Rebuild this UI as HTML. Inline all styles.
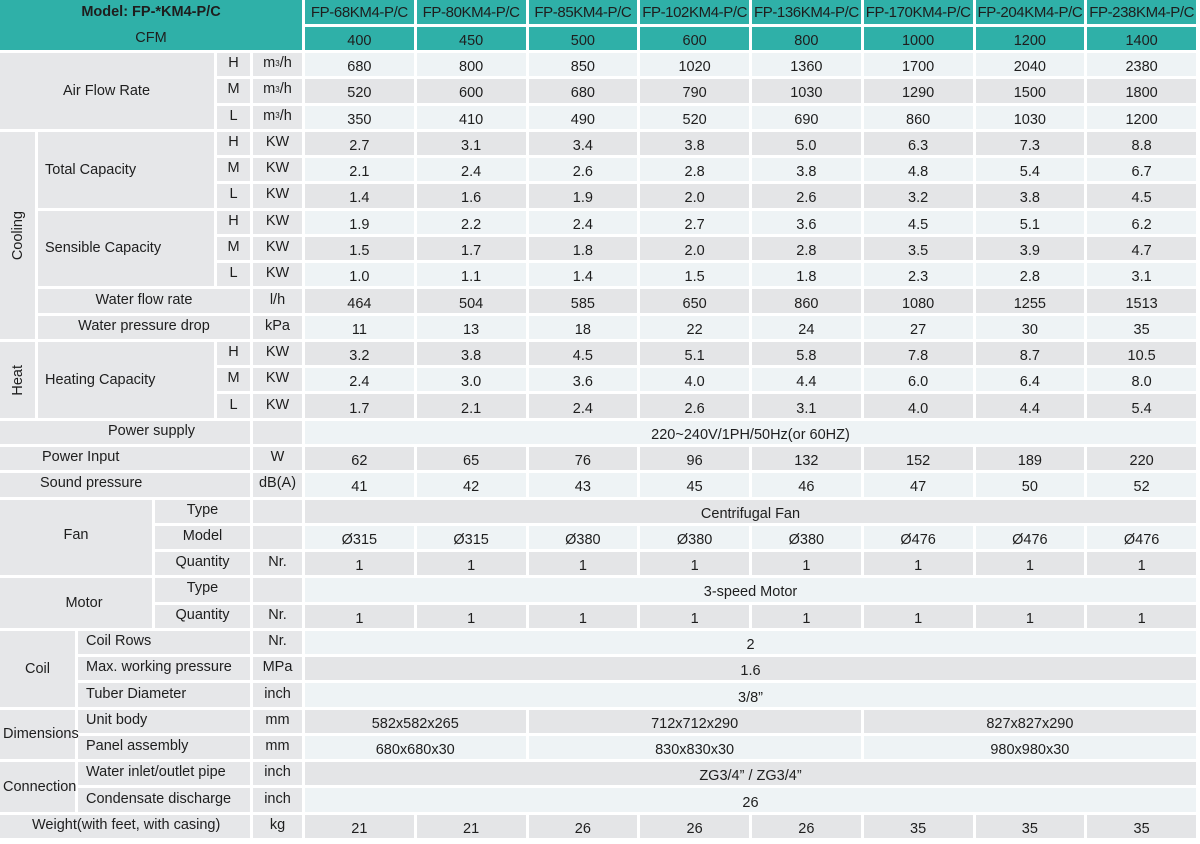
<!DOCTYPE html>
<html><head><meta charset="utf-8">
<style>
*{margin:0;padding:0;box-sizing:border-box}
body{width:1200px;height:844px;background:#fff;overflow:hidden;font-family:"Liberation Sans",Arial,sans-serif;color:#1e1e1e;font-size:14.5px}
.g{position:absolute;left:0;top:0;width:1196px;display:grid;
grid-template-columns:35px 37px 74px 59px 33px 49px repeat(8,1fr);
grid-template-rows:24px 23px repeat(30,23.27px);column-gap:3px;row-gap:3px}
.g>div{display:flex;align-items:center;justify-content:center;white-space:nowrap;background:#e6e7e9;overflow:visible}
.g>.t{background:#2fb0a8;color:#1e1e1e}
.g>.l{background:#eef3f5}
.g>.d{background:#e4e5e7}
.g>.k{padding-bottom:3px}
.g>.v{padding-top:5px}
.lf{justify-content:flex-start!important}
.hd{letter-spacing:-0.4px;font-size:15px}
sup{font-size:8px;vertical-align:6px}
.rot{writing-mode:vertical-rl;transform:rotate(180deg)}
</style></head><body>
<div class="g">
<div class="t" style="grid-column:1/7;grid-row:1/3;flex-direction:column;justify-content:flex-start">
<span style="font-weight:bold;display:block;height:26px;line-height:24px;margin-top:0">Model: FP-*KM4-P/C</span>
<span style="display:block;line-height:24px;margin-top:0">CFM</span></div>
<div class="t hd" style="grid-column:7;grid-row:1;padding-top:1px">FP-68KM4-P/C</div>
<div class="t hd" style="grid-column:8;grid-row:1;padding-top:1px">FP-80KM4-P/C</div>
<div class="t hd" style="grid-column:9;grid-row:1;padding-top:1px">FP-85KM4-P/C</div>
<div class="t hd" style="grid-column:10;grid-row:1;padding-top:1px">FP-102KM4-P/C</div>
<div class="t hd" style="grid-column:11;grid-row:1;padding-top:1px">FP-136KM4-P/C</div>
<div class="t hd" style="grid-column:12;grid-row:1;padding-top:1px">FP-170KM4-P/C</div>
<div class="t hd" style="grid-column:13;grid-row:1;padding-top:1px">FP-204KM4-P/C</div>
<div class="t hd" style="grid-column:14;grid-row:1;padding-top:1px">FP-238KM4-P/C</div>
<div class="t v" style="grid-column:7;grid-row:2">400</div>
<div class="t v" style="grid-column:8;grid-row:2">450</div>
<div class="t v" style="grid-column:9;grid-row:2">500</div>
<div class="t v" style="grid-column:10;grid-row:2">600</div>
<div class="t v" style="grid-column:11;grid-row:2">800</div>
<div class="t v" style="grid-column:12;grid-row:2">1000</div>
<div class="t v" style="grid-column:13;grid-row:2">1200</div>
<div class="t v" style="grid-column:14;grid-row:2">1400</div>

<div class="lf" style="grid-column:1/5;grid-row:3/6;padding-left:63px">Air Flow Rate</div>
<div class="k" style="grid-column:5;grid-row:3">H</div><div class="k" style="grid-column:6;grid-row:3">m<sup>3</sup>/h</div>
<div class="k" style="grid-column:5;grid-row:4">M</div><div class="k" style="grid-column:6;grid-row:4">m<sup>3</sup>/h</div>
<div class="k" style="grid-column:5;grid-row:5">L</div><div class="k" style="grid-column:6;grid-row:5">m<sup>3</sup>/h</div>
<div class="l v">680</div><div class="l v">800</div><div class="l v">850</div><div class="l v">1020</div><div class="l v">1360</div><div class="l v">1700</div><div class="l v">2040</div><div class="l v" style="grid-row:3;grid-column:14">2380</div>
<div class="d v" style="grid-row:4;grid-column:7">520</div><div class="d v" style="grid-row:4">600</div><div class="d v" style="grid-row:4">680</div><div class="d v" style="grid-row:4">790</div><div class="d v" style="grid-row:4">1030</div><div class="d v" style="grid-row:4">1290</div><div class="d v" style="grid-row:4">1500</div><div class="d v" style="grid-row:4">1800</div>
<div class="l v" style="grid-row:5;grid-column:7">350</div><div class="l v" style="grid-row:5">410</div><div class="l v" style="grid-row:5">490</div><div class="l v" style="grid-row:5">520</div><div class="l v" style="grid-row:5">690</div><div class="l v" style="grid-row:5">860</div><div class="l v" style="grid-row:5">1030</div><div class="l v" style="grid-row:5">1200</div>

<div style="grid-column:1;grid-row:6/14"><span class="rot">Cooling</span></div>
<div class="lf" style="grid-column:2/5;grid-row:6/9;padding-left:7px">Total Capacity</div>
<div class="k" style="grid-column:5;grid-row:6">H</div><div class="k" style="grid-column:6;grid-row:6">KW</div>
<div class="k" style="grid-column:5;grid-row:7">M</div><div class="k" style="grid-column:6;grid-row:7">KW</div>
<div class="k" style="grid-column:5;grid-row:8">L</div><div class="k" style="grid-column:6;grid-row:8">KW</div>
<div class="d v" style="grid-row:6;grid-column:7">2.7</div><div class="d v" style="grid-row:6">3.1</div><div class="d v" style="grid-row:6">3.4</div><div class="d v" style="grid-row:6">3.8</div><div class="d v" style="grid-row:6">5.0</div><div class="d v" style="grid-row:6">6.3</div><div class="d v" style="grid-row:6">7.3</div><div class="d v" style="grid-row:6">8.8</div>
<div class="l v" style="grid-row:7;grid-column:7">2.1</div><div class="l v" style="grid-row:7">2.4</div><div class="l v" style="grid-row:7">2.6</div><div class="l v" style="grid-row:7">2.8</div><div class="l v" style="grid-row:7">3.8</div><div class="l v" style="grid-row:7">4.8</div><div class="l v" style="grid-row:7">5.4</div><div class="l v" style="grid-row:7">6.7</div>
<div class="d v" style="grid-row:8;grid-column:7">1.4</div><div class="d v" style="grid-row:8">1.6</div><div class="d v" style="grid-row:8">1.9</div><div class="d v" style="grid-row:8">2.0</div><div class="d v" style="grid-row:8">2.6</div><div class="d v" style="grid-row:8">3.2</div><div class="d v" style="grid-row:8">3.8</div><div class="d v" style="grid-row:8">4.5</div>
<div class="lf" style="grid-column:2/5;grid-row:9/12;padding-left:7px">Sensible Capacity</div>
<div class="k" style="grid-column:5;grid-row:9">H</div><div class="k" style="grid-column:6;grid-row:9">KW</div>
<div class="k" style="grid-column:5;grid-row:10">M</div><div class="k" style="grid-column:6;grid-row:10">KW</div>
<div class="k" style="grid-column:5;grid-row:11">L</div><div class="k" style="grid-column:6;grid-row:11">KW</div>
<div class="l v" style="grid-row:9;grid-column:7">1.9</div><div class="l v" style="grid-row:9">2.2</div><div class="l v" style="grid-row:9">2.4</div><div class="l v" style="grid-row:9">2.7</div><div class="l v" style="grid-row:9">3.6</div><div class="l v" style="grid-row:9">4.5</div><div class="l v" style="grid-row:9">5.1</div><div class="l v" style="grid-row:9">6.2</div>
<div class="d v" style="grid-row:10;grid-column:7">1.5</div><div class="d v" style="grid-row:10">1.7</div><div class="d v" style="grid-row:10">1.8</div><div class="d v" style="grid-row:10">2.0</div><div class="d v" style="grid-row:10">2.8</div><div class="d v" style="grid-row:10">3.5</div><div class="d v" style="grid-row:10">3.9</div><div class="d v" style="grid-row:10">4.7</div>
<div class="l v" style="grid-row:11;grid-column:7">1.0</div><div class="l v" style="grid-row:11">1.1</div><div class="l v" style="grid-row:11">1.4</div><div class="l v" style="grid-row:11">1.5</div><div class="l v" style="grid-row:11">1.8</div><div class="l v" style="grid-row:11">2.3</div><div class="l v" style="grid-row:11">2.8</div><div class="l v" style="grid-row:11">3.1</div>
<div class="k" style="grid-column:2/6;grid-row:12">Water flow rate</div><div class="k" style="grid-column:6;grid-row:12">l/h</div>
<div class="d v" style="grid-row:12;grid-column:7">464</div><div class="d v" style="grid-row:12">504</div><div class="d v" style="grid-row:12">585</div><div class="d v" style="grid-row:12">650</div><div class="d v" style="grid-row:12">860</div><div class="d v" style="grid-row:12">1080</div><div class="d v" style="grid-row:12">1255</div><div class="d v" style="grid-row:12">1513</div>
<div class="k" style="grid-column:2/6;grid-row:13">Water pressure drop</div><div class="k" style="grid-column:6;grid-row:13">kPa</div>
<div class="l v" style="grid-row:13;grid-column:7">11</div><div class="l v" style="grid-row:13">13</div><div class="l v" style="grid-row:13">18</div><div class="l v" style="grid-row:13">22</div><div class="l v" style="grid-row:13">24</div><div class="l v" style="grid-row:13">27</div><div class="l v" style="grid-row:13">30</div><div class="l v" style="grid-row:13">35</div>

<div style="grid-column:1;grid-row:14/17"><span class="rot">Heat</span></div>
<div class="lf" style="grid-column:2/5;grid-row:14/17;padding-left:7px">Heating Capacity</div>
<div class="k" style="grid-column:5;grid-row:14">H</div><div class="k" style="grid-column:6;grid-row:14">KW</div>
<div class="k" style="grid-column:5;grid-row:15">M</div><div class="k" style="grid-column:6;grid-row:15">KW</div>
<div class="k" style="grid-column:5;grid-row:16">L</div><div class="k" style="grid-column:6;grid-row:16">KW</div>
<div class="d v" style="grid-row:14;grid-column:7">3.2</div><div class="d v" style="grid-row:14">3.8</div><div class="d v" style="grid-row:14">4.5</div><div class="d v" style="grid-row:14">5.1</div><div class="d v" style="grid-row:14">5.8</div><div class="d v" style="grid-row:14">7.8</div><div class="d v" style="grid-row:14">8.7</div><div class="d v" style="grid-row:14">10.5</div>
<div class="l v" style="grid-row:15;grid-column:7">2.4</div><div class="l v" style="grid-row:15">3.0</div><div class="l v" style="grid-row:15">3.6</div><div class="l v" style="grid-row:15">4.0</div><div class="l v" style="grid-row:15">4.4</div><div class="l v" style="grid-row:15">6.0</div><div class="l v" style="grid-row:15">6.4</div><div class="l v" style="grid-row:15">8.0</div>
<div class="d v" style="grid-row:16;grid-column:7">1.7</div><div class="d v" style="grid-row:16">2.1</div><div class="d v" style="grid-row:16">2.4</div><div class="d v" style="grid-row:16">2.6</div><div class="d v" style="grid-row:16">3.1</div><div class="d v" style="grid-row:16">4.0</div><div class="d v" style="grid-row:16">4.4</div><div class="d v" style="grid-row:16">5.4</div>

<div class="k lf" style="grid-column:1/6;grid-row:17;padding-left:108px">Power supply</div><div style="grid-column:6;grid-row:17"></div>
<div class="l v" style="grid-column:7/15;grid-row:17">220~240V/1PH/50Hz(or 60HZ)</div>
<div class="k lf" style="grid-column:1/6;grid-row:18;padding-left:42px">Power Input</div><div class="k" style="grid-column:6;grid-row:18">W</div>
<div class="d v" style="grid-row:18;grid-column:7">62</div><div class="d v" style="grid-row:18">65</div><div class="d v" style="grid-row:18">76</div><div class="d v" style="grid-row:18">96</div><div class="d v" style="grid-row:18">132</div><div class="d v" style="grid-row:18">152</div><div class="d v" style="grid-row:18">189</div><div class="d v" style="grid-row:18">220</div>
<div class="k lf" style="grid-column:1/6;grid-row:19;padding-left:40px">Sound pressure</div><div class="k" style="grid-column:6;grid-row:19">dB(A)</div>
<div class="l v" style="grid-row:19;grid-column:7">41</div><div class="l v" style="grid-row:19">42</div><div class="l v" style="grid-row:19">43</div><div class="l v" style="grid-row:19">45</div><div class="l v" style="grid-row:19">46</div><div class="l v" style="grid-row:19">47</div><div class="l v" style="grid-row:19">50</div><div class="l v" style="grid-row:19">52</div>

<div style="grid-column:1/4;grid-row:20/23;padding-bottom:4px">Fan</div>
<div class="k" style="grid-column:4/6;grid-row:20">Type</div><div style="grid-column:6;grid-row:20"></div>
<div class="d v" style="grid-column:7/15;grid-row:20">Centrifugal Fan</div>
<div class="k" style="grid-column:4/6;grid-row:21">Model</div><div style="grid-column:6;grid-row:21"></div>
<div class="l v" style="grid-row:21;grid-column:7">Ø315</div><div class="l v" style="grid-row:21">Ø315</div><div class="l v" style="grid-row:21">Ø380</div><div class="l v" style="grid-row:21">Ø380</div><div class="l v" style="grid-row:21">Ø380</div><div class="l v" style="grid-row:21">Ø476</div><div class="l v" style="grid-row:21">Ø476</div><div class="l v" style="grid-row:21">Ø476</div>
<div class="k" style="grid-column:4/6;grid-row:22">Quantity</div><div class="k" style="grid-column:6;grid-row:22">Nr.</div>
<div class="d v" style="grid-row:22;grid-column:7">1</div><div class="d v" style="grid-row:22">1</div><div class="d v" style="grid-row:22">1</div><div class="d v" style="grid-row:22">1</div><div class="d v" style="grid-row:22">1</div><div class="d v" style="grid-row:22">1</div><div class="d v" style="grid-row:22">1</div><div class="d v" style="grid-row:22">1</div>

<div style="grid-column:1/4;grid-row:23/25;padding-left:16px">Motor</div>
<div class="k" style="grid-column:4/6;grid-row:23">Type</div><div style="grid-column:6;grid-row:23"></div>
<div class="l v" style="grid-column:7/15;grid-row:23">3-speed Motor</div>
<div class="k" style="grid-column:4/6;grid-row:24">Quantity</div><div class="k" style="grid-column:6;grid-row:24">Nr.</div>
<div class="d v" style="grid-row:24;grid-column:7">1</div><div class="d v" style="grid-row:24">1</div><div class="d v" style="grid-row:24">1</div><div class="d v" style="grid-row:24">1</div><div class="d v" style="grid-row:24">1</div><div class="d v" style="grid-row:24">1</div><div class="d v" style="grid-row:24">1</div><div class="d v" style="grid-row:24">1</div>

<div style="grid-column:1/3;grid-row:25/28">Coil</div>
<div class="k lf" style="grid-column:3/6;grid-row:25;padding-left:8px">Coil Rows</div><div class="k" style="grid-column:6;grid-row:25">Nr.</div>
<div class="l v" style="grid-column:7/15;grid-row:25">2</div>
<div class="k lf" style="grid-column:3/6;grid-row:26;padding-left:8px">Max. working pressure</div><div class="k" style="grid-column:6;grid-row:26">MPa</div>
<div class="d v" style="grid-column:7/15;grid-row:26">1.6</div>
<div class="k lf" style="grid-column:3/6;grid-row:27;padding-left:8px">Tuber Diameter</div><div class="k" style="grid-column:6;grid-row:27">inch</div>
<div class="l v" style="grid-column:7/15;grid-row:27">3/8”</div>

<div class="lf" style="grid-column:1/3;grid-row:28/30;padding-left:3px">Dimensions</div>
<div class="k lf" style="grid-column:3/6;grid-row:28;padding-left:8px">Unit body</div><div class="k" style="grid-column:6;grid-row:28">mm</div>
<div class="d v" style="grid-column:7/9;grid-row:28">582x582x265</div>
<div class="d v" style="grid-column:9/12;grid-row:28">712x712x290</div>
<div class="d v" style="grid-column:12/15;grid-row:28">827x827x290</div>
<div class="k lf" style="grid-column:3/6;grid-row:29;padding-left:8px">Panel assembly</div><div class="k" style="grid-column:6;grid-row:29">mm</div>
<div class="l v" style="grid-column:7/9;grid-row:29">680x680x30</div>
<div class="l v" style="grid-column:9/12;grid-row:29">830x830x30</div>
<div class="l v" style="grid-column:12/15;grid-row:29">980x980x30</div>

<div class="lf" style="grid-column:1/3;grid-row:30/32;padding-left:3px">Connection</div>
<div class="k lf" style="grid-column:3/6;grid-row:30;padding-left:8px">Water inlet/outlet pipe</div><div class="k" style="grid-column:6;grid-row:30">inch</div>
<div class="d v" style="grid-column:7/15;grid-row:30">ZG3/4” / ZG3/4”</div>
<div class="k lf" style="grid-column:3/6;grid-row:31;padding-left:8px">Condensate discharge</div><div class="k" style="grid-column:6;grid-row:31">inch</div>
<div class="l v" style="grid-column:7/15;grid-row:31">26</div>

<div class="k lf" style="grid-column:1/6;grid-row:32;padding-left:32px">Weight(with feet, with casing)</div><div class="k" style="grid-column:6;grid-row:32">kg</div>
<div class="d v" style="grid-row:32;grid-column:7">21</div><div class="d v" style="grid-row:32">21</div><div class="d v" style="grid-row:32">26</div><div class="d v" style="grid-row:32">26</div><div class="d v" style="grid-row:32">26</div><div class="d v" style="grid-row:32">35</div><div class="d v" style="grid-row:32">35</div><div class="d v" style="grid-row:32">35</div>
</div>
</body></html>
